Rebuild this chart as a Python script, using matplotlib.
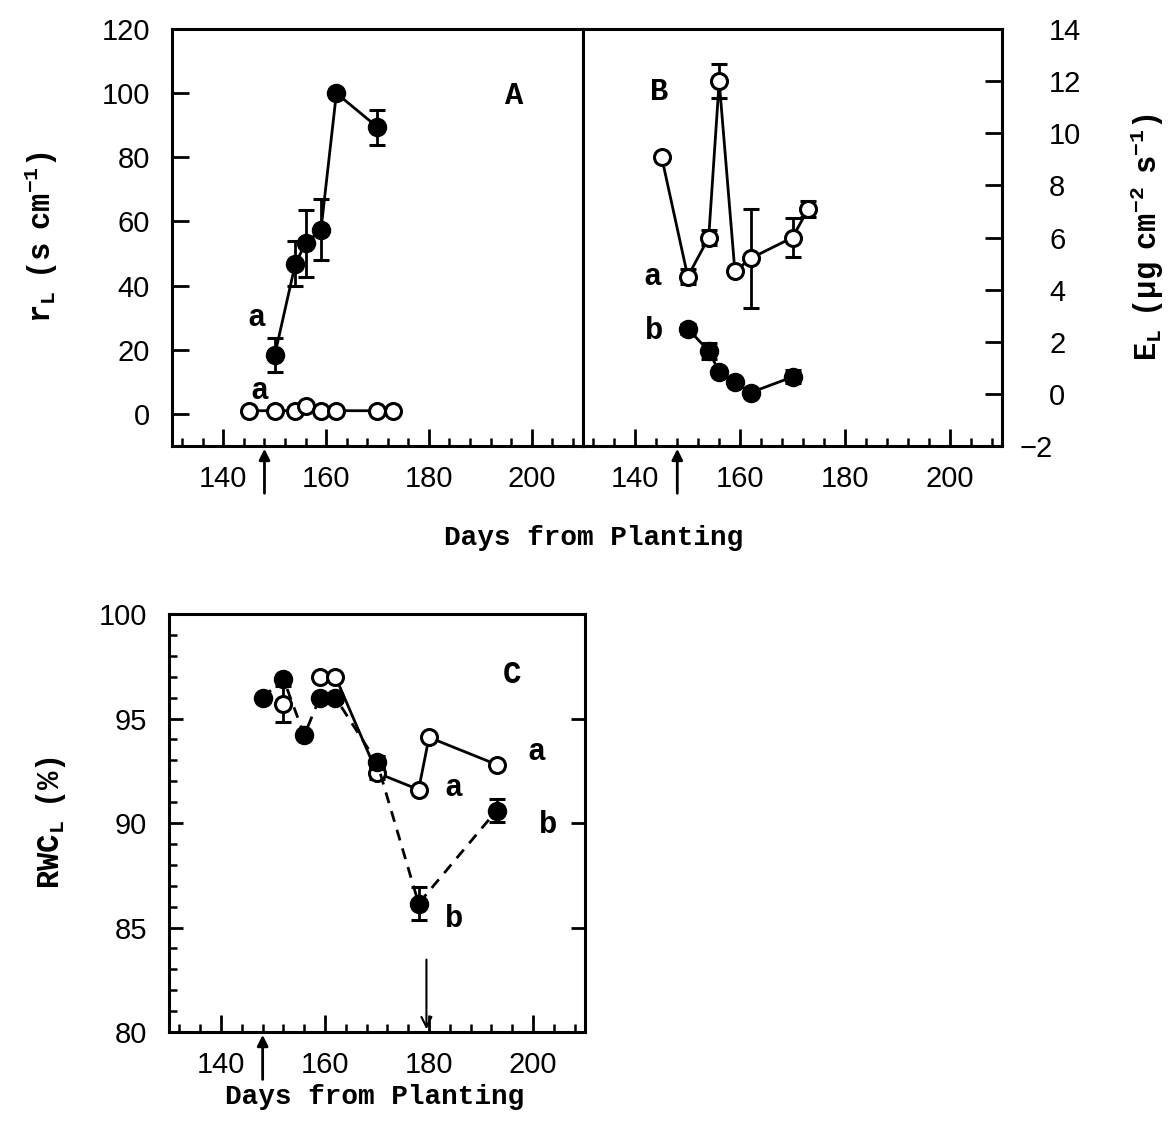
import matplotlib
matplotlib.use('Agg')
import matplotlib.pyplot as plt
from matplotlib.transforms import ScaledTranslation

# leaf resistance, panel A (days from planting)
a_days_stress = [150, 154, 156, 159, 162, 170]
rl_stress = [18.3, 46.8, 53.2, 57.4, 100.0, 89.4]
rl_stress_err = [5.3, 7.0, 10.4, 9.5, 0.0, 5.4]
a_days_control = [145, 150, 154, 156, 159, 162, 170, 173]
rl_control = [1.0, 1.0, 1.0, 2.5, 1.0, 1.0, 1.0, 1.0]

# transpiration, panel B
b_days_a = [145, 150, 154, 156, 159, 162, 170, 173]
el_a = [9.1, 4.5, 6.0, 12.0, 4.7, 5.2, 6.0, 7.1]
el_a_err = [0.0, 0.3, 0.3, 0.65, 0.0, 1.9, 0.75, 0.3]
b_days_b = [150, 154, 156, 159, 162, 170]
el_b = [2.5, 1.65, 0.85, 0.45, 0.05, 0.65]
el_b_err = [0.2, 0.3, 0.0, 0.0, 0.0, 0.25]

# relative water content, panel C
c_days_a = [152, 159, 162, 170, 178, 180, 193]
rwc_a = [95.7, 97.0, 97.0, 92.4, 91.6, 94.1, 92.8]
rwc_a_err = [0.85, 0.0, 0.0, 0.3, 0.0, 0.0, 0.0]
c_days_b = [148, 152, 156, 159, 162, 170, 178, 193]
rwc_b = [96.0, 96.9, 94.2, 96.0, 96.0, 92.9, 86.15, 90.6]
rwc_b_err = [0.0, 0.0, 0.0, 0.0, 0.2, 0.3, 0.8, 0.55]

x_ticks = [140, 160, 180, 200]
x_minor = list(range(132, 210, 4))
start_day = 148
stop_day = 179.5

LABEL_FONT = 'Liberation Mono'
TICK_FONT = 'Liberation Sans'

plt.rcParams['mathtext.fontset'] = 'custom'
plt.rcParams['mathtext.rm'] = 'Liberation Mono:bold'
plt.rcParams['mathtext.it'] = 'Liberation Mono:bold'
plt.rcParams['mathtext.bf'] = 'Liberation Mono:bold'
plt.rcParams['font.family'] = TICK_FONT
plt.rcParams['axes.linewidth'] = 2.2

fig = plt.figure(figsize=(11.74, 11.48), dpi=100)
axA = fig.add_axes([0.1465, 0.6115, 0.3501, 0.3632])
axB = fig.add_axes([0.4966, 0.6115, 0.3569, 0.3632])
axC = fig.add_axes([0.1440, 0.1010, 0.3543, 0.3641])

fill_kw = dict(marker='o', ms=13, mfc='black', mec='black', color='black', lw=2)
open_kw = dict(marker='o', ms=11.5, mfc='white', mec='black', mew=2.2, color='black', lw=2)
err_kw = dict(ecolor='black', elinewidth=2, capsize=6, capthick=2.2, fmt='none')


def x_axis(ax):
    ax.set_xlim(130, 210)
    ax.set_xticks(x_ticks)
    ax.set_xticks(x_minor, minor=True)
    ax.tick_params(axis='x', which='major', direction='in', length=12, width=2,
                   pad=14, labelsize=21, top=False)
    ax.tick_params(axis='x', which='minor', direction='in', length=6, width=1.8, top=False)
    # treatment start marker under the axis
    ax.annotate('', xy=(start_day, 0.0), xycoords=('data', 'axes fraction'),
                xytext=(start_day, -0.12), textcoords=('data', 'axes fraction'),
                arrowprops=dict(arrowstyle='-|>', lw=2, color='black', mutation_scale=16),
                annotation_clip=False)


def note(ax, x, y, s):
    ax.text(x, y, s, fontsize=22, fontfamily=LABEL_FONT, fontweight='bold',
            ha='center', va='center')


# ---- panel A ----
axA.errorbar(a_days_stress, rl_stress, yerr=rl_stress_err, **err_kw)
axA.plot(a_days_stress, rl_stress, **fill_kw)
axA.plot(a_days_control, rl_control, **open_kw)
axA.set_ylim(-10, 120)
axA.set_yticks(range(0, 121, 20))
axA.tick_params(axis='y', direction='in', length=12, width=2, pad=16, labelsize=21, right=False)
x_axis(axA)
axA.set_ylabel(r'$\mathrm{r_L\ \ (s\ \ cm^{-1})}$', fontsize=22, labelpad=30)
note(axA, 196.5, 99, 'A')
note(axA, 146.5, 30, 'a')
note(axA, 147, 7, 'a')

# ---- panel B ----
axB.errorbar(b_days_a, el_a, yerr=el_a_err, **err_kw)
axB.plot(b_days_a, el_a, **open_kw)
axB.errorbar(b_days_b, el_b, yerr=el_b_err, **err_kw)
axB.plot(b_days_b, el_b, **fill_kw)
axB.set_ylim(-2, 14)
axB.set_yticks(range(-2, 15, 2))
axB.yaxis.tick_right()
axB.yaxis.set_label_position('right')
axB.tick_params(axis='y', direction='in', length=12, width=2, pad=34, labelsize=21,
                left=False, right=True)
x_axis(axB)
axB.set_ylabel(r'$\mathrm{E_L\ \ (\mu g\ \ cm^{-2}\ \ s^{-1})}$', fontsize=22, labelpad=34)
note(axB, 144.5, 11.6, 'B')
note(axB, 143.3, 4.5, 'a')
note(axB, 143.5, 2.4, 'b')

# ---- panel C ----
axC.errorbar(c_days_a, rwc_a, yerr=rwc_a_err, **err_kw)
axC.plot(c_days_a[1:], rwc_a[1:], color='black', lw=2)
axC.plot(c_days_a, rwc_a, ls='none', **{k: v for k, v in open_kw.items() if k not in ('color', 'lw')})
axC.errorbar(c_days_b, rwc_b, yerr=rwc_b_err, **err_kw)
axC.plot(c_days_b, rwc_b, ls=(0, (4, 3)), **fill_kw)
axC.set_ylim(80, 100)
axC.set_yticks(range(80, 101, 5))
axC.set_yticks(range(80, 101, 1), minor=True)
axC.tick_params(axis='y', which='major', direction='in', length=10, width=2, pad=16,
                labelsize=21, right=True)
axC.tick_params(axis='y', which='minor', direction='in', length=6, width=1.8, right=False)
x_axis(axC)
axC.annotate('', xy=(stop_day, 0.0), xycoords=('data', 'axes fraction'),
             xytext=(stop_day, 0.18), textcoords=('data', 'axes fraction'),
             arrowprops=dict(arrowstyle='->', lw=1.5, color='black', mutation_scale=18))
axC.set_ylabel(r'$\mathrm{RWC_L\ \ (\%)}$', fontsize=22, labelpad=22)
note(axC, 196, 97.1, 'C')
note(axC, 200.6, 93.4, 'a')
note(axC, 184.8, 91.7, 'a')
note(axC, 202.8, 89.9, 'b')
note(axC, 184.8, 85.4, 'b')

fig.text(0.506, 0.531, 'Days from Planting', fontsize=20, fontfamily=LABEL_FONT,
         fontweight='bold', ha='center', va='center')
fig.text(0.3195, 0.044, 'Days from Planting', fontsize=20, fontfamily=LABEL_FONT,
         fontweight='bold', ha='center', va='center')

# hang the minus sign of the lowest right-hand label out to the left
fig.canvas.draw()
for lab in axB.get_yticklabels():
    if lab.get_text().startswith('\u2212'):
        lab.set_transform(lab.get_transform() + ScaledTranslation(-0.3, 0, fig.dpi_scale_trans))

fig.savefig('out.png', dpi=100)
